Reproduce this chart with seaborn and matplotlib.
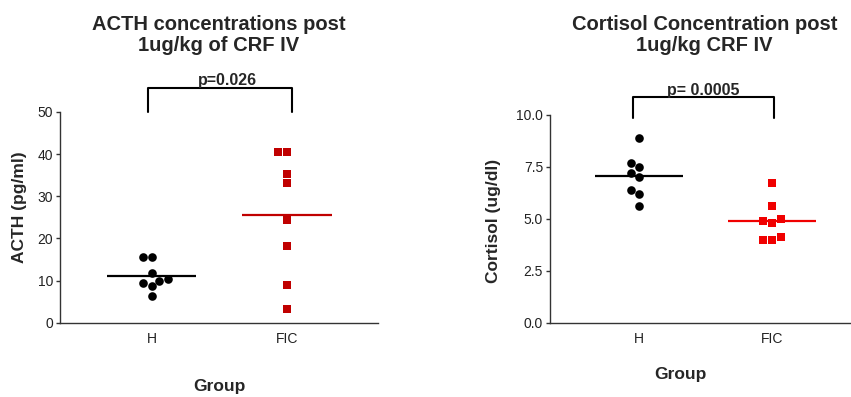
import pandas as pd
import matplotlib
matplotlib.use("Agg")
import matplotlib.pyplot as plt
import seaborn as sns

# values
groups = ["H", "FIC"]
acth_h = [11.7, 9.9, 15.6, 15.6, 9.5, 10.4, 8.8, 6.3]
acth_fic = [40.6, 40.6, 35.3, 33.1, 24.3, 18.2, 8.9, 3.3]
cort_h = [8.9, 7.7, 7.5, 7.2, 7.0, 6.4, 6.2, 5.6]
cort_fic = [6.7, 5.6, 4.9, 4.8, 5.0, 4.1, 4.0, 4.0]
acth_ticks = [0, 10, 20, 30, 40, 50]
cort_ticks = [0.0, 2.5, 5.0, 7.5, 10.0]

sns.set_style("white")
plt.rcParams["font.family"] = ["Liberation Sans", "DejaVu Sans"]

acth = pd.DataFrame({"group": ["H"] * len(acth_h) + ["FIC"] * len(acth_fic),
                     "value": acth_h + acth_fic})
cort = pd.DataFrame({"group": ["H"] * len(cort_h) + ["FIC"] * len(cort_fic),
                     "value": cort_h + cort_fic})

fig = plt.figure(figsize=(8.51, 3.97), dpi=100)
ax1 = fig.add_axes([0.0705, 0.187, 0.3737, 0.531])
ax2 = fig.add_axes([0.6463, 0.187, 0.3537, 0.524])


def draw_panel(ax, df, fic_color, ylabel, ylim, ticks, fmt):
    sns.swarmplot(data=df[df.group == "H"], x="group", y="value", order=groups,
                  color="black", marker="o", size=6.2, ax=ax)
    sns.swarmplot(data=df[df.group == "FIC"], x="group", y="value", order=groups,
                  color=fic_color, marker="s", size=6.4, ax=ax)
    means = df.groupby("group")["value"].mean()
    for i, g in enumerate(groups):
        ax.hlines(means[g], i - 0.33, i + 0.33, color="black" if g == "H" else fic_color, lw=1.6)
    ax.set_ylim(*ylim)
    ax.set_yticks(ticks)
    ax.set_yticklabels([fmt.format(t) for t in ticks])
    ax.set_ylabel(ylabel, fontsize=12.5, fontweight="bold", va="center")
    ax.set_xlabel("Group", fontsize=12.5, fontweight="bold", va="center")
    sns.despine(ax=ax)
    for s in ["left", "bottom"]:
        ax.spines[s].set_color("#333333")
        ax.spines[s].set_linewidth(1)
    ax.tick_params(axis="y", length=3, width=1, color="#333333", labelsize=10, labelcolor="#222222",
                   left=True, pad=2)
    ax.tick_params(axis="x", length=0, labelsize=10, labelcolor="#222222", pad=7)


draw_panel(ax1, acth, "#c00000", "ACTH (pg/ml)", (0, 50), acth_ticks, "{:g}")
draw_panel(ax2, cort, "#f00000", "Cortisol (ug/dl)", (0, 10), cort_ticks, "{:.1f}")

ax1.set_xlim(-0.68, 1.674)
ax2.set_xlim(-0.67, 1.59)

ax1.yaxis.set_label_coords(-0.126, 0.55)
ax2.yaxis.set_label_coords(-0.189, 0.49)
ax1.xaxis.set_label_coords(0.5, -0.30)
ax2.xaxis.set_label_coords(0.432, -0.247)

# significance brackets
ax1.plot([-0.03, -0.03, 1.04, 1.04], [50, 55.6, 55.6, 50], color="black", lw=1.5, clip_on=False)
ax1.text(0.56, 56.5, "p=0.026", ha="center", va="baseline", fontsize=11.5, fontweight="bold")
ax2.plot([-0.045, -0.045, 1.015, 1.015], [9.86, 10.84, 10.84, 9.86], color="black", lw=1.5, clip_on=False)
ax2.text(0.48, 10.95, "p= 0.0005", ha="center", va="baseline", fontsize=11.5, fontweight="bold")

fig.text(0.2573, 0.912, "ACTH concentrations post\n1ug/kg of CRF IV", ha="center", va="center",
         fontsize=14.5, fontweight="bold", linespacing=1.15)
fig.text(0.828, 0.912, "Cortisol Concentration post\n1ug/kg CRF IV", ha="center", va="center",
         fontsize=14.5, fontweight="bold", linespacing=1.15)

fig.savefig("out.png", dpi=100)
